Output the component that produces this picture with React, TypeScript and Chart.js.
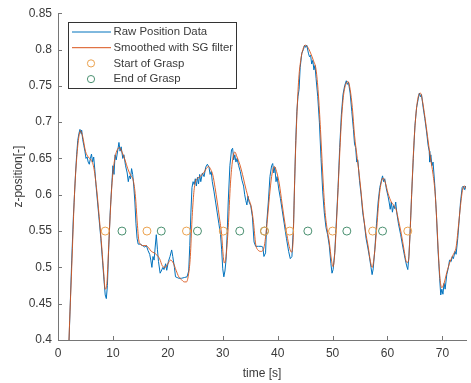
import React, { useEffect, useRef } from 'react';
import { Chart, registerables } from 'chart.js';

Chart.register(...registerables);

// ---- data ----
const rawTime = [
  1.9, 2.1, 2.5, 2.8, 3.0, 3.2, 3.4, 3.6, 3.8, 4.0, 4.2, 4.3, 4.5, 4.7, 4.9, 5.1, 5.3, 5.5, 5.7, 5.9,
  6.1, 6.3, 6.5, 6.7, 6.9, 7.2, 7.5, 7.8, 8.1, 8.4, 8.6, 8.8, 9.0, 9.2, 9.5, 9.8, 10.0, 10.2, 10.4, 10.6,
  10.9, 11.1, 11.3, 11.5, 11.8, 12.0, 12.3, 12.6, 12.8, 13.0, 13.2, 13.4, 13.6, 13.8, 14.0, 14.2, 14.4, 14.6, 15.0, 15.4,
  15.8, 16.1, 16.4, 16.7, 16.9, 17.1, 17.3, 17.5, 17.7, 17.9, 18.1, 18.3, 18.6, 18.8, 19.1, 19.3, 19.6, 19.8, 20.1, 20.4,
  20.7, 20.9, 21.2, 21.4, 21.7, 22.0, 22.5, 23.0, 23.5, 23.8, 24.0, 24.2, 24.4, 24.6, 24.8, 25.0, 25.2, 25.4, 25.6, 25.8,
  26.0, 26.3, 26.6, 26.9, 27.2, 27.5, 27.7, 27.9, 28.1, 28.4, 28.7, 29.0, 29.3, 29.6, 29.8, 30.0, 30.2, 30.4, 30.6, 30.8,
  31.0, 31.3, 31.6, 31.8, 32.0, 32.2, 32.4, 32.6, 32.9, 33.2, 33.5, 33.8, 34.0, 34.2, 34.4, 34.6, 34.8, 35.1, 35.4, 35.7,
  36.0, 36.5, 37.0, 37.3, 37.5, 37.8, 38.0, 38.3, 38.6, 38.9, 39.1, 39.3, 39.5, 39.7, 39.9, 40.2, 40.5, 40.8, 41.2, 41.6,
  42.0, 42.3, 42.6, 42.9, 43.1, 43.3, 43.5, 43.7, 43.9, 44.1, 44.4, 44.7, 44.9, 45.1, 45.3, 45.6, 45.8, 46.0, 46.2, 46.4,
  46.6, 46.8, 47.0, 47.3, 47.6, 47.9, 48.2, 48.5, 48.8, 49.1, 49.4, 49.7, 49.9, 50.1, 50.4, 50.7, 51.0, 51.3, 51.6, 51.9,
  52.2, 52.5, 52.7, 52.9, 53.2, 53.5, 53.8, 54.0, 54.2, 54.4, 54.6, 54.9, 55.2, 55.5, 55.8, 56.1, 56.4, 56.7, 57.0, 57.2,
  57.4, 57.7, 58.0, 58.3, 58.6, 58.9, 59.1, 59.3, 59.5, 59.8, 60.1, 60.3, 60.5, 60.7, 60.9, 61.1, 61.3, 61.5, 61.7, 62.0,
  62.4, 62.8, 63.2, 63.5, 63.7, 63.9, 64.1, 64.4, 64.7, 65.0, 65.3, 65.6, 65.8, 66.0, 66.2, 66.5, 66.8, 67.1, 67.4, 67.6,
  67.7, 67.9, 68.1, 68.3, 68.6, 68.9, 69.2, 69.5, 69.7, 69.9, 70.1, 70.3, 70.5, 70.8, 71.1, 71.3, 71.6, 71.8, 72.0, 72.3,
  72.5, 72.8, 73.0, 73.3, 73.6, 73.8, 74.0, 74.2, 74.4,
];
const rawZ = [
  0.37, 0.42, 0.51, 0.57, 0.6, 0.63, 0.655, 0.675, 0.684, 0.69, 0.684, 0.689, 0.676, 0.668, 0.66, 0.65, 0.652, 0.645, 0.642, 0.65,
  0.656, 0.645, 0.652, 0.635, 0.615, 0.59, 0.565, 0.54, 0.51, 0.48, 0.462, 0.457, 0.475, 0.52, 0.575, 0.615, 0.64, 0.628, 0.655, 0.648,
  0.662, 0.672, 0.66, 0.666, 0.65, 0.655, 0.64, 0.63, 0.618, 0.626, 0.622, 0.636, 0.628, 0.612, 0.59, 0.56, 0.54, 0.532, 0.532, 0.53,
  0.528, 0.53, 0.523, 0.518, 0.51, 0.5, 0.515, 0.51, 0.528, 0.545, 0.525, 0.508, 0.492, 0.495, 0.5, 0.497, 0.505, 0.496, 0.508, 0.515,
  0.524, 0.515, 0.5, 0.487, 0.486, 0.485, 0.485, 0.486, 0.487, 0.495, 0.53, 0.575, 0.61, 0.618, 0.614, 0.622, 0.612, 0.624, 0.615, 0.628,
  0.618, 0.63, 0.625, 0.638, 0.642, 0.638, 0.628, 0.632, 0.618, 0.605, 0.59, 0.575, 0.56, 0.545, 0.525, 0.498, 0.487, 0.495, 0.51, 0.545,
  0.59, 0.64, 0.662, 0.664, 0.648, 0.655, 0.645, 0.65, 0.64, 0.632, 0.62, 0.612, 0.6, 0.592, 0.586, 0.598, 0.59, 0.585, 0.57, 0.535,
  0.529, 0.529, 0.529, 0.528, 0.515, 0.52, 0.56, 0.59, 0.625, 0.64, 0.643, 0.63, 0.638, 0.618, 0.625, 0.608, 0.595, 0.58, 0.56, 0.54,
  0.522, 0.512, 0.515, 0.56, 0.62, 0.675, 0.715, 0.735, 0.745, 0.775, 0.795, 0.8, 0.806, 0.803, 0.806, 0.795, 0.79, 0.792, 0.78, 0.785,
  0.772, 0.778, 0.76, 0.735, 0.7, 0.65, 0.605, 0.575, 0.555, 0.545, 0.53, 0.505, 0.492, 0.497, 0.52, 0.565, 0.61, 0.665, 0.71, 0.738,
  0.75, 0.757, 0.752, 0.755, 0.74, 0.715, 0.69, 0.67, 0.665, 0.645, 0.648, 0.62, 0.6, 0.575, 0.56, 0.54, 0.528, 0.515, 0.5, 0.49,
  0.498, 0.525, 0.56, 0.59, 0.61, 0.62, 0.626, 0.618, 0.622, 0.608, 0.598, 0.59, 0.58, 0.59, 0.576, 0.585, 0.581, 0.59, 0.575, 0.56,
  0.545, 0.528, 0.512, 0.502, 0.497, 0.515, 0.545, 0.6, 0.65, 0.695, 0.72, 0.732, 0.74, 0.735, 0.738, 0.72, 0.705, 0.688, 0.668, 0.66,
  0.645, 0.655, 0.64, 0.645, 0.615, 0.575, 0.525, 0.485, 0.462, 0.47, 0.463, 0.478, 0.47, 0.49, 0.5, 0.51, 0.508, 0.515, 0.512, 0.522,
  0.518, 0.54, 0.56, 0.59, 0.61, 0.612, 0.607, 0.612, 0.605,
];

const smoothTime = [
  1.9, 2.0, 2.5, 3.0, 3.4, 3.8, 4.1, 4.5, 5.0, 5.5, 6.0, 6.5, 7.0, 7.5, 8.0, 8.3, 8.6, 8.9, 9.3, 9.7,
  10.0, 10.4, 10.8, 11.2, 11.7, 12.2, 12.7, 13.2, 13.7, 14.1, 14.4, 14.7, 15.0, 15.5, 16.0, 16.5, 17.0, 17.5, 18.0, 18.5,
  19.0, 19.5, 20.0, 20.5, 21.0, 21.5, 22.0, 22.5, 23.0, 23.4, 23.8, 24.1, 24.4, 24.7, 25.0, 25.5, 26.0, 26.5, 27.0, 27.4,
  27.8, 28.2, 28.6, 29.0, 29.4, 29.8, 30.1, 30.3, 30.6, 31.0, 31.4, 31.8, 32.2, 32.6, 33.1, 33.6, 34.0, 34.6, 35.2, 35.6,
  36.0, 36.4, 37.0, 37.5, 37.9, 38.2, 38.6, 39.0, 39.4, 39.8, 40.3, 40.8, 41.3, 41.8, 42.2, 42.5, 42.8, 43.1, 43.4, 43.8,
  44.2, 44.6, 45.0, 45.5, 46.0, 46.5, 47.0, 47.4, 47.8, 48.2, 48.6, 49.0, 49.4, 49.8, 50.1, 50.4, 50.8, 51.2, 51.6, 52.0,
  52.4, 52.8, 53.2, 53.6, 54.0, 54.5, 55.0, 55.5, 56.0, 56.5, 56.9, 57.2, 57.5, 58.0, 58.5, 58.9, 59.2, 59.6, 60.1, 60.7,
  61.2, 61.6, 62.0, 62.5, 63.0, 63.5, 63.8, 64.1, 64.4, 64.8, 65.2, 65.6, 66.0, 66.4, 66.8, 67.3, 67.8, 68.3, 68.7, 69.0,
  69.3, 69.6, 69.9, 70.3, 70.8, 71.4, 72.0, 72.5, 72.9, 73.3, 73.7, 74.0, 74.4,
];
const smoothZ = [
  0.375, 0.4, 0.5, 0.6, 0.65, 0.68, 0.688, 0.68, 0.66, 0.652, 0.648, 0.638, 0.61, 0.57, 0.525, 0.495, 0.47, 0.478, 0.54, 0.6,
  0.63, 0.652, 0.662, 0.665, 0.658, 0.648, 0.636, 0.627, 0.62, 0.598, 0.565, 0.538, 0.532, 0.53, 0.53, 0.527, 0.522, 0.52, 0.517, 0.512,
  0.502, 0.5, 0.505, 0.51, 0.506, 0.496, 0.487, 0.483, 0.48, 0.48, 0.492, 0.515, 0.565, 0.6, 0.617, 0.623, 0.626, 0.63, 0.636, 0.639,
  0.635, 0.627, 0.61, 0.59, 0.568, 0.545, 0.515, 0.506, 0.515, 0.555, 0.615, 0.648, 0.659, 0.652, 0.642, 0.628, 0.615, 0.597, 0.583, 0.562,
  0.532, 0.524, 0.522, 0.527, 0.548, 0.572, 0.605, 0.63, 0.639, 0.632, 0.615, 0.588, 0.562, 0.54, 0.526, 0.521, 0.535, 0.62, 0.69, 0.755,
  0.785, 0.8, 0.806, 0.803, 0.795, 0.785, 0.772, 0.74, 0.69, 0.63, 0.58, 0.553, 0.535, 0.51, 0.501, 0.52, 0.575, 0.64, 0.7, 0.737,
  0.752, 0.756, 0.745, 0.72, 0.682, 0.65, 0.618, 0.58, 0.55, 0.528, 0.508, 0.5, 0.51, 0.55, 0.598, 0.618, 0.623, 0.617, 0.602, 0.59,
  0.585, 0.579, 0.565, 0.547, 0.525, 0.507, 0.508, 0.545, 0.6, 0.668, 0.712, 0.735, 0.74, 0.728, 0.708, 0.68, 0.652, 0.628, 0.6, 0.56,
  0.515, 0.482, 0.472, 0.478, 0.493, 0.508, 0.518, 0.528, 0.555, 0.585, 0.608, 0.612, 0.607,
];

const graspStartTime = [8.6, 16.2, 23.4, 30.1, 37.6, 42.2, 50.0, 57.3, 63.7];
const graspEndTime = [11.65, 18.8, 25.4, 33.1, 37.6, 45.5, 52.6, 59.1];
const graspLevel = 0.55;

const seriesLabels = ['Raw Position Data', 'Smoothed with SG filter', 'Start of Grasp', 'End of Grasp'];
const xTicks = [0, 10, 20, 30, 40, 50, 60, 70];
const xTickLabels = ['0', '10', '20', '30', '40', '50', '60', '70'];
const yTicks = [0.4, 0.45, 0.5, 0.55, 0.6, 0.65, 0.7, 0.75, 0.8, 0.85];
const yTickLabels = ['0.4', '0.45', '0.5', '0.55', '0.6', '0.65', '0.7', '0.75', '0.8', '0.85'];
const xTitle = 'time [s]';
const yTitle = 'z-position[-]';

const FONT = '"Liberation Sans", Arial, Helvetica, sans-serif';
const TEXT = '#3a3a3a';
const AXIS = '#767676';

const tickPlugin = {
  id: 'inwardTicks',
  afterDatasetsDraw(chart: any) {
    const { ctx, chartArea, scales } = chart;
    const xs = scales.x;
    const ys = scales.y;
    ctx.save();
    ctx.strokeStyle = AXIS;
    ctx.lineWidth = 1;
    ctx.beginPath();
    xs.ticks.forEach((t: any) => {
      const px = Math.round(xs.getPixelForValue(t.value)) + 0.5;
      ctx.moveTo(px, chartArea.bottom);
      ctx.lineTo(px, chartArea.bottom - 4);
    });
    ys.ticks.forEach((t: any) => {
      const py = Math.round(ys.getPixelForValue(t.value)) + 0.5;
      ctx.moveTo(chartArea.left, py);
      ctx.lineTo(chartArea.left + 4, py);
    });
    ctx.stroke();
    ctx.restore();
  },
};

const legendPlugin = {
  id: 'boxLegend',
  afterDraw(chart: any) {
    const { ctx, chartArea } = chart;
    const x0 = Math.round(chartArea.left + 10) + 0.5;
    const y0 = Math.round(chartArea.top + 9) + 0.5;
    const w = 168;
    const h = 66;
    ctx.save();
    ctx.fillStyle = '#ffffff';
    ctx.fillRect(x0, y0, w, h);
    ctx.strokeStyle = '#333333';
    ctx.lineWidth = 1;
    ctx.strokeRect(x0, y0, w, h);
    ctx.font = `11.4px ${FONT}`;
    ctx.textBaseline = 'middle';
    chart.data.datasets.forEach((ds: any, i: number) => {
      const y = y0 + 9.5 + i * 15.7;
      if (ds.showLine === false) {
        ctx.beginPath();
        ctx.strokeStyle = ds.borderColor;
        ctx.lineWidth = 1;
        ctx.arc(x0 + 22.5, y, 3.6, 0, Math.PI * 2);
        ctx.stroke();
      } else {
        ctx.beginPath();
        ctx.strokeStyle = ds.borderColor;
        ctx.lineWidth = 1;
        ctx.moveTo(x0 + 3.5, y);
        ctx.lineTo(x0 + 42.5, y);
        ctx.stroke();
      }
      ctx.fillStyle = TEXT;
      ctx.fillText(ds.label, x0 + 45, y);
    });
    ctx.restore();
  },
};

export default function App() {
  const canvasRef = useRef<HTMLCanvasElement | null>(null);

  useEffect(() => {
    const canvas = canvasRef.current;
    if (!canvas) return;
    const chart = new Chart(canvas, {
      type: 'line',
      data: {
        datasets: [
          {
            label: seriesLabels[0],
            data: rawTime.map((t, i) => ({ x: t, y: rawZ[i] })),
            borderColor: '#0072BD',
            borderWidth: 1,
            pointRadius: 0,
            tension: 0,
            order: 2,
          },
          {
            label: seriesLabels[1],
            data: smoothTime.map((t, i) => ({ x: t, y: smoothZ[i] })),
            borderColor: '#D95319',
            borderWidth: 0.9,
            pointRadius: 0,
            cubicInterpolationMode: 'monotone',
            order: 1,
          },
          {
            label: seriesLabels[2],
            data: graspStartTime.map((t) => ({ x: t, y: graspLevel })),
            borderColor: '#EBA24E',
            backgroundColor: 'rgba(0,0,0,0)',
            showLine: false,
            pointRadius: 4,
            pointBorderWidth: 1,
            pointStyle: 'circle',
            order: 0,
          },
          {
            label: seriesLabels[3],
            data: graspEndTime.map((t) => ({ x: t, y: graspLevel })),
            borderColor: '#4A9070',
            backgroundColor: 'rgba(0,0,0,0)',
            showLine: false,
            pointRadius: 4,
            pointBorderWidth: 1,
            pointStyle: 'circle',
            order: 0,
          },
        ],
      },
      options: {
        responsive: false,
        animation: false,
        events: [],
        layout: { padding: { top: 13, right: 1, left: 0, bottom: 0 } },
        plugins: {
          legend: { display: false },
          tooltip: { enabled: false },
        },
        scales: {
          x: {
            type: 'linear',
            min: 0,
            max: 74.3,
            afterBuildTicks: (scale: any) => {
              scale.ticks = xTicks.map((v) => ({ value: v }));
            },
            afterFit: (scale: any) => {
              scale.height = 43;
            },
            ticks: {
              autoSkip: false,
              maxRotation: 0,
              padding: 6,
              color: TEXT,
              font: { family: FONT, size: 12 },
              callback: (_v: any, i: number) => xTickLabels[i],
            },
            grid: { display: true, drawOnChartArea: false, drawTicks: false },
            border: { display: true, color: AXIS, width: 1 },
            title: {
              display: true,
              text: xTitle,
              color: TEXT,
              font: { family: FONT, size: 12 },
              padding: { top: 0, bottom: 2 },
            },
          },
          y: {
            type: 'linear',
            min: 0.4,
            max: 0.85,
            afterBuildTicks: (scale: any) => {
              scale.ticks = yTicks.map((v) => ({ value: v }));
            },
            afterFit: (scale: any) => {
              scale.width = 58;
            },
            ticks: {
              autoSkip: false,
              padding: 6,
              color: TEXT,
              font: { family: FONT, size: 12 },
              callback: (_v: any, i: number) => yTickLabels[i],
            },
            grid: { display: true, drawOnChartArea: false, drawTicks: false },
            border: { display: true, color: AXIS, width: 1 },
            title: {
              display: true,
              text: yTitle,
              color: TEXT,
              font: { family: FONT, size: 12 },
              padding: { top: 11, bottom: 0 },
            },
          },
        },
      },
      plugins: [tickPlugin, legendPlugin],
    });
    return () => chart.destroy();
  }, []);

  return (
    <div style={{ position: 'fixed', left: 0, top: 0, width: 471, height: 383, background: '#ffffff' }}>
      <canvas ref={canvasRef} width={471} height={383} />
    </div>
  );
}
